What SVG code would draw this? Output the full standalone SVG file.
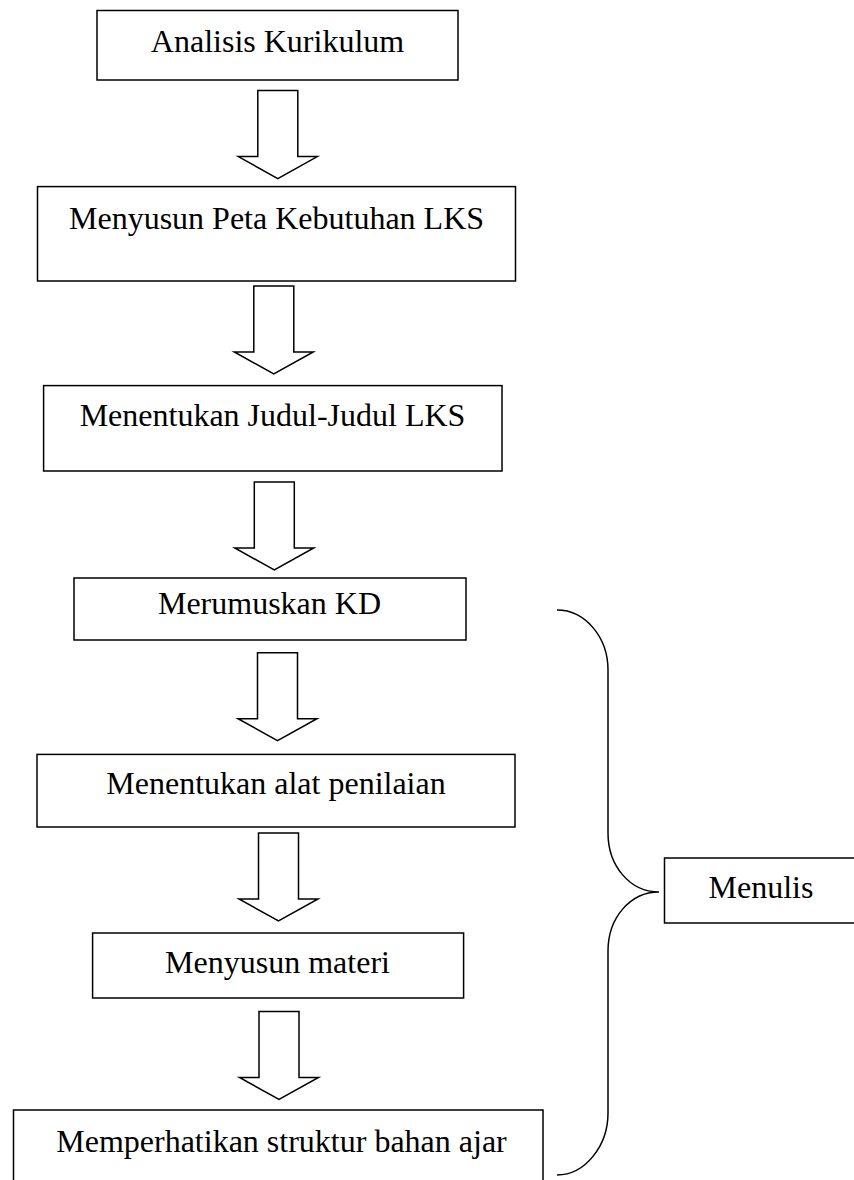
<svg xmlns="http://www.w3.org/2000/svg" xmlns:xlink="http://www.w3.org/1999/xlink" width="854" height="1180" viewBox="0 0 854 1180">
<style>
.box{fill:#fff;stroke:#000;stroke-width:1.5}
.lbl{font-family:"Liberation Serif","Times New Roman",serif;font-size:32px;fill:#000;text-anchor:middle}
.arr{fill:#fff;stroke:#000;stroke-width:1.5;stroke-linejoin:miter}
.brace{fill:none;stroke:#000;stroke-width:1.5}
</style>
<defs>
<path id="blockArrow" class="arr" d="M-20,0 L20,0 L20,66 L39.5,66 L0,88 L-39.5,66 L-20,66 Z"/>
</defs>
<rect width="854" height="1180" fill="#fff"/>
<g id="connectors">
<use xlink:href="#blockArrow" href="#blockArrow" x="277.8" y="90.6"/>
<use xlink:href="#blockArrow" href="#blockArrow" x="273.8" y="286"/>
<use xlink:href="#blockArrow" href="#blockArrow" x="274.3" y="482"/>
<use xlink:href="#blockArrow" href="#blockArrow" x="277.5" y="652.7"/>
<use xlink:href="#blockArrow" href="#blockArrow" x="278.5" y="833"/>
<use xlink:href="#blockArrow" href="#blockArrow" x="279" y="1011.5"/>
<path class="brace" d="M557,610 C585,610 608,637 608,670 L608,833 C608,866 630,892 659,892 C630,892 608,918 608,951 L608,1113 C608,1146 585,1175 557,1175"/>
</g>
<g id="node-analisis">
<rect class="box" x="97" y="10.5" width="361" height="69.5"/>
<text class="lbl" x="277.5" y="51.5">Analisis Kurikulum</text>
</g>
<g id="node-peta">
<rect class="box" x="37.5" y="186.6" width="478" height="94.4"/>
<text class="lbl" x="276.5" y="229">Menyusun Peta Kebutuhan LKS</text>
</g>
<g id="node-judul">
<rect class="box" x="43.6" y="385.6" width="458.4" height="85.4"/>
<text class="lbl" x="272.5" y="426">Menentukan Judul-Judul LKS</text>
</g>
<g id="node-kd">
<rect class="box" x="74" y="578" width="392" height="62"/>
<text class="lbl" x="269.5" y="614">Merumuskan KD</text>
</g>
<g id="node-penilaian">
<rect class="box" x="37" y="754.4" width="478" height="72.6"/>
<text class="lbl" x="276" y="794">Menentukan alat penilaian</text>
</g>
<g id="node-materi">
<rect class="box" x="92.6" y="933" width="371" height="65"/>
<text class="lbl" x="277.5" y="972.7">Menyusun materi</text>
</g>
<g id="node-struktur">
<rect class="box" x="13.5" y="1110" width="529.5" height="85"/>
<text class="lbl" x="281.5" y="1152">Memperhatikan struktur bahan ajar</text>
</g>
<g id="node-menulis">
<rect class="box" x="664.5" y="858" width="200" height="65"/>
<text class="lbl" x="761" y="898">Menulis</text>
</g>
</svg>
